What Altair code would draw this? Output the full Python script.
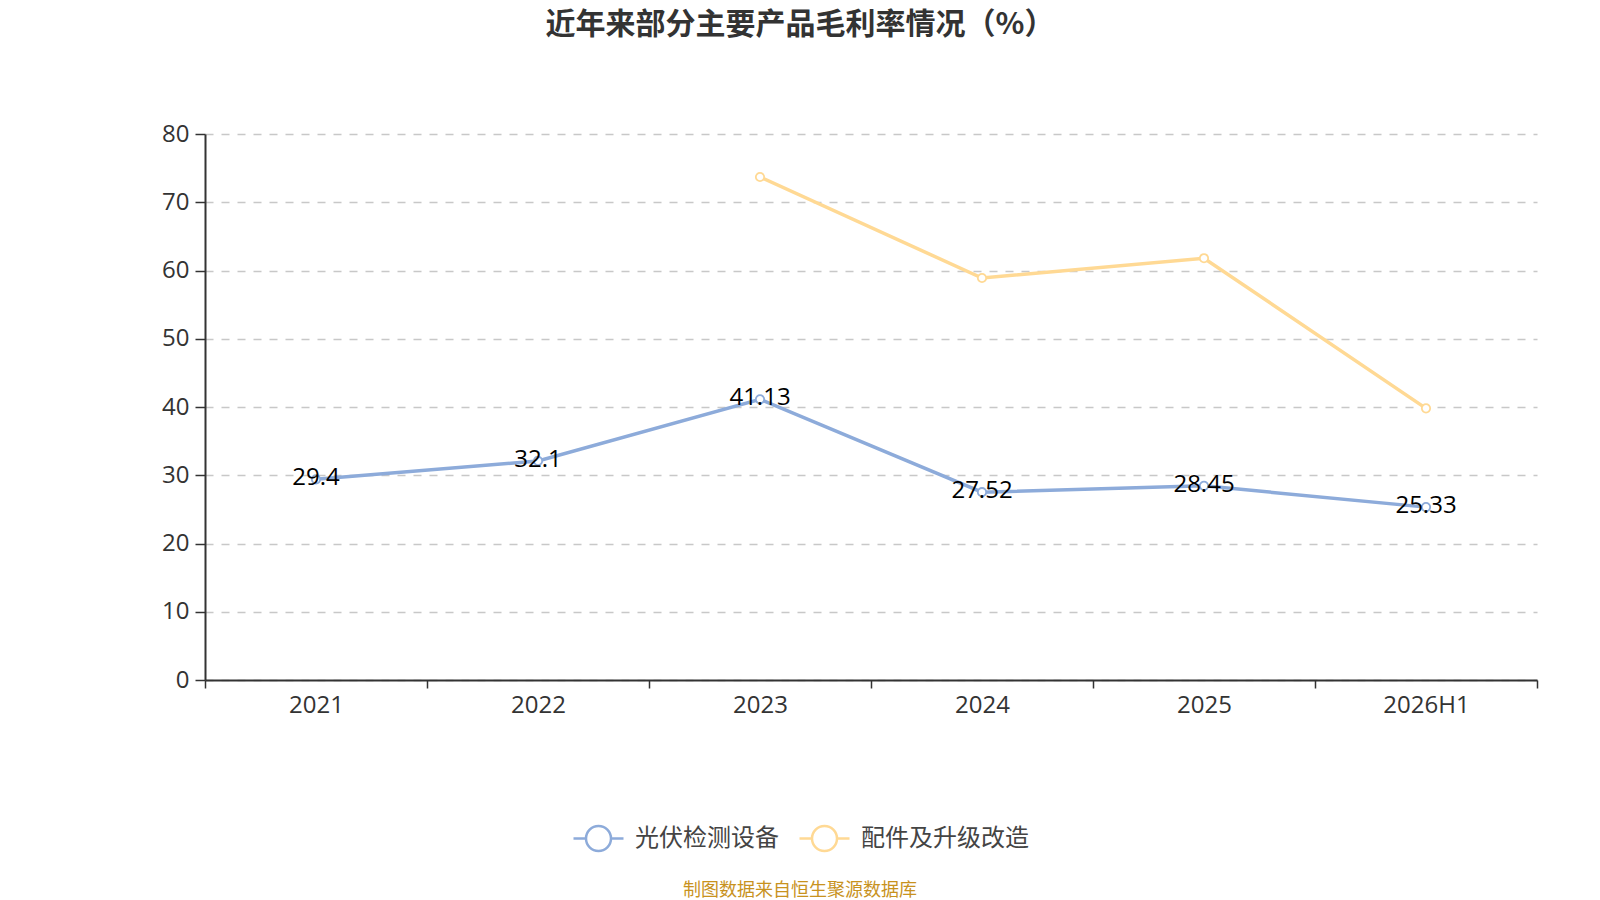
import altair as alt
import pandas as pd

categories = ["2021", "2022", "2023", "2024", "2025", "2026H1"]
series_names = ["光伏检测设备", "配件及升级改造"]
pv_values = [29.4, 32.1, 41.13, 27.52, 28.45, 25.33]
parts_values = [None, None, 73.7, 58.9, 61.8, 39.8]
y_ticks = [0, 10, 20, 30, 40, 50, 60, 70, 80]
colors = ["#8DABDA", "#FFD994"]
title_text = "近年来部分主要产品毛利率情况（%）"
source_text = "制图数据来自恒生聚源数据库"

rows = []
for c, v in zip(categories, pv_values):
    rows.append({"year": c, "series": series_names[0], "value": v})
for c, v in zip(categories, parts_values):
    if v is not None:
        rows.append({"year": c, "series": series_names[1], "value": v})
df = pd.DataFrame(rows)
df_pv = df[df["series"] == series_names[0]]

FONT = "Noto Sans CJK SC"
NUMFONT = "Open Sans"
legend_path = "M-1,0L-0.5,0M0.5,0L1,0M0.5,0A0.5,0.5,0,1,1,-0.5,0A0.5,0.5,0,1,1,0.5,0"

x_enc = alt.X(
    "year:N",
    sort=categories,
    scale=alt.Scale(type="band", domain=categories, paddingInner=0, paddingOuter=0),
    axis=alt.Axis(
        title=None, labelAngle=0, labelFontSize=24, labelColor="#333333", labelFont=NUMFONT,
        labelPadding=5, tickBand="extent", tickSize=8, tickColor="#333333",
        domainColor="#333333", domainWidth=2, tickWidth=1.5, grid=False,
    ),
)
y_enc = alt.Y(
    "value:Q",
    scale=alt.Scale(domain=[0, 80], nice=False, zero=True),
    axis=alt.Axis(
        title=None, values=y_ticks, labelFontSize=24, labelColor="#333333", labelFont=NUMFONT,
        labelPadding=6, tickSize=10, tickColor="#333333", domainColor="#333333",
        domainWidth=2, tickWidth=1.5, grid=True, gridColor="#c8c8c8", gridDash=[8, 8],
        gridWidth=1.4,
    ),
)
color_enc = alt.Color(
    "series:N",
    sort=series_names,
    scale=alt.Scale(domain=series_names, range=colors),
    legend=alt.Legend(
        title=None, orient="none", legendX=367, legendY=678, direction="horizontal",
        symbolType=legend_path, symbolSize=2500, symbolStrokeWidth=2.5,
        symbolFillColor="white", labelFontSize=24, labelColor="#444444", labelFont=FONT,
        labelOffset=10, columnPadding=15, padding=0, labelLimit=400,
    ),
)

lines = alt.Chart(df).mark_line(strokeWidth=3.5).encode(x=x_enc, y=y_enc, color=color_enc)
points = alt.Chart(df).mark_point(
    filled=True, fill="white", size=70, strokeWidth=1.8, opacity=1
).encode(x=x_enc, y=y_enc, stroke=alt.Color("series:N", scale=alt.Scale(domain=series_names, range=colors), legend=None))
labels = alt.Chart(df_pv).mark_text(
    fontSize=24, font=NUMFONT, color="#000000", baseline="middle", align="center", dy=-1
).encode(x=x_enc, y=y_enc, text=alt.Text("value:Q"))

source = alt.Chart(pd.DataFrame({"t": [source_text]})).mark_text(
    fontSize=18, font=FONT, color="#C8921E", align="center", baseline="middle"
).encode(x=alt.value(595), y=alt.value(757), text="t:N")

chart = alt.layer(lines, points, labels, source).properties(
    width=1332,
    height=546,
    background="white",
    autosize=alt.AutoSizeParams(type="none"),
    padding={"left": 197, "top": 126, "right": 50, "bottom": 220},
    title=alt.Title(
        title_text, font=FONT, fontSize=30, fontWeight="bold", color="#333333",
        anchor="middle", dx=-71, offset=82,
    ),
).configure_view(stroke="transparent", strokeWidth=0)

chart.save("out.html", embed_options={"renderer": "svg", "actions": False})
